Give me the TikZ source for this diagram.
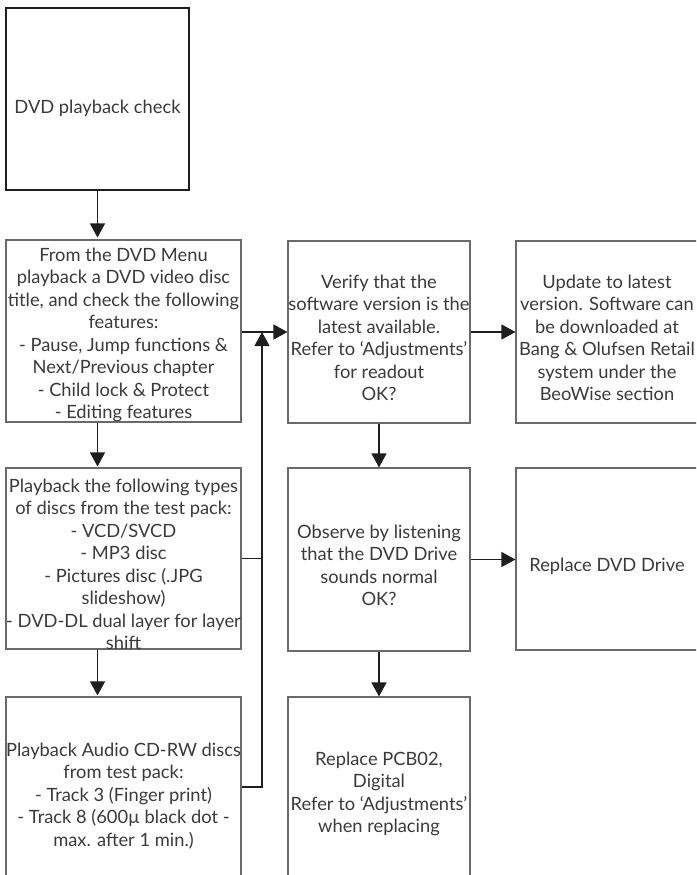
\documentclass[tikz,border=0pt]{standalone}
\usepackage{fontspec}
\setmainfont{Lato}
\usetikzlibrary{arrows.meta,calc}
\definecolor{boxgray}{HTML}{6A6A6A}
\definecolor{linedark}{HTML}{1E1E1E}
\definecolor{txtgray}{HTML}{3A3A3A}
\begin{document}
\begin{tikzpicture}[x=1pt,y=-1pt,
  boxstyle/.style={draw=boxgray,line width=1.1pt,rectangle,inner sep=0pt,minimum width=#1},
  boxstyle/.default=182pt,
  txt/.style={text=txtgray,align=center,inner sep=0pt,font=\fontsize{18.3}{22.5}\selectfont},
  conn/.style={draw=linedark,line width=1.2pt},
  arr/.style={conn,-{Triangle[length=14pt,width=15pt]}}]
\useasboundingbox (0,0) rectangle (696,875);
\clip (0,0) rectangle (696,875);
% boxes
\node[draw=linedark,line width=2.4pt,rectangle,inner sep=0pt,minimum width=183pt,minimum height=182pt] (top) at (97.5,99) {};
\node[boxstyle=235pt,minimum height=182pt] (b2) at (123.5,331) {};
\node[boxstyle=235pt,minimum height=181pt] (b3) at (123.5,558.5) {};
\node[boxstyle=235pt,minimum height=196pt] (b4) at (123.5,795) {};
\node[boxstyle,minimum height=182pt] (ver) at (379,332) {};
\node[boxstyle,minimum height=182pt] (upd) at (607,332) {};
\node[boxstyle,minimum height=183pt] (obs) at (379,559.5) {};
\node[boxstyle,minimum height=182pt] (rep) at (607,559) {};
\node[boxstyle,minimum height=196pt] (pcb) at (379,795) {};
% texts
\node[txt] (t1) at ([yshift=-9pt]top.center) {DVD playback check};
\node[txt] (t2) at ([yshift=-4pt]b2.center) {From the DVD Menu\\playback a DVD video disc\\title, and check the following\\features:\\- Pause, Jump functions \&\\Next/Previous chapter\\- Child lock \& Protect\\- Editing features};
\node[txt] (t3) at ([yshift=-6pt]b3.center) {Playback the following types\\of discs from the test pack:\\- VCD/SVCD\\- MP3 disc\\- Pictures disc (.JPG\\slideshow)\\- DVD-DL dual layer for layer\\shift};
\node[txt] (t4) at ([yshift=-1pt]b4.center) {Playback Audio CD-RW discs\\from test pack:\\- Track 3 (Finger print)\\- Track 8 (600µ black dot -\\max. after 1 min.)};
\node[txt] (t5) at ([yshift=-6pt]ver.center) {Verify that the\\software version is the\\latest available.\\Refer to ‘Adjustments’\\for readout\\OK?};
\node[txt] (t6) at ([yshift=-6pt]upd.center) {Update to latest\\version. Software can\\be downloaded at\\Bang \& Olufsen Retail\\system under the\\BeoWise section};
\node[txt] (t7) at ([yshift=-6pt]obs.center) {Observe by listening\\that the DVD Drive\\sounds normal\\OK?};
\node[txt] (t8) at ([yshift=-7pt]rep.center) {Replace DVD Drive};
\node[txt] (t9) at ([yshift=1pt]pcb.center) {Replace PCB02,\\Digital\\Refer to ‘Adjustments’\\when replacing};
% connectors
\coordinate (jx) at (262,0);
\draw[arr,shorten >=2pt] (top.south) -- (top.south |- b2.north);
\draw[arr,shorten >=1pt] (top.south |- b2.south) -- (top.south |- b3.north);
\draw[arr,shorten >=1pt] (top.south |- b3.south) -- (top.south |- b4.north);
\draw[arr] (b2.east |- ver.west) -- (ver.west);
\draw[conn] (b3.east) -- (b3.east -| jx);
\draw[arr] (b4.east |- 0,787) -- (jx |- 0,787) -- (jx |- ver.west);
\draw[arr] (ver.east) -- (upd.west);
\draw[arr] (ver.south) -- (obs.north);
\draw[arr] (obs.east) -- (obs.east -| rep.west);
\draw[arr] (obs.south) -- (pcb.north);
\end{tikzpicture}
\end{document}
